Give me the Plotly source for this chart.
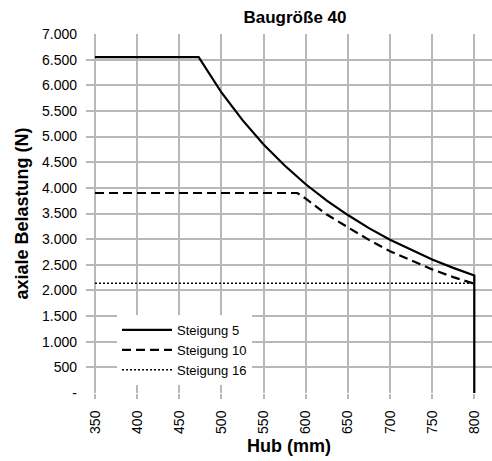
import plotly.graph_objects as go

# Data
hub_s5 = [350, 473, 500, 525, 550, 575, 600, 625, 650, 675, 700, 725, 750, 775, 800, 800]
last_s5 = [6550, 6550, 5860, 5320, 4845, 4435, 4070, 3750, 3470, 3215, 2990, 2790, 2605, 2440, 2290, 0]

hub_s10 = [350, 590, 600, 625, 650, 675, 700, 725, 750, 775, 800]
last_s10 = [3900, 3900, 3790, 3480, 3230, 2985, 2765, 2580, 2410, 2260, 2130]

hub_s16 = [350, 800]
last_s16 = [2140, 2140]

series_names = ["Steigung 5", "Steigung 10", "Steigung 16"]

x_ticks = [350, 400, 450, 500, 550, 600, 650, 700, 750, 800]
y_ticks = [0, 500, 1000, 1500, 2000, 2500, 3000, 3500, 4000, 4500, 5000, 5500, 6000, 6500, 7000]
y_tick_text = ["-", "500", "1.000", "1.500", "2.000", "2.500", "3.000", "3.500",
               "4.000", "4.500", "5.000", "5.500", "6.000", "6.500", "7.000"]

FONT = "Liberation Sans, Arial, sans-serif"
GRID = "#b8b8b8"

fig = go.Figure()
fig.add_trace(go.Scatter(x=hub_s5, y=last_s5, mode="lines", name=series_names[0],
                         line=dict(color="black", width=2.2)))
fig.add_trace(go.Scatter(x=hub_s10, y=last_s10, mode="lines", name=series_names[1],
                         line=dict(color="black", width=2.2, dash="9px,5px")))
fig.add_trace(go.Scatter(x=hub_s16, y=last_s16, mode="lines", name=series_names[2],
                         line=dict(color="black", width=1.6, dash="2px,2px")))

fig.update_layout(
    width=492, height=461,
    margin=dict(l=86, r=0, t=34, b=68),
    paper_bgcolor="white", plot_bgcolor="white",
    font=dict(family=FONT, color="black", size=14),
    title=dict(text="<b>Baugröße 40</b>", x=295 / 492, xref="container", xanchor="center",
               y=1 - 17 / 461, yref="container", yanchor="middle",
               font=dict(size=17, family=FONT, color="black")),
    showlegend=True,
    legend=dict(x=(117 - 86) / 406, y=(393 - 315) / 359, xanchor="left", yanchor="top",
                bgcolor="white", borderwidth=0, font=dict(size=13, family=FONT),
                tracegroupgap=0, itemwidth=50),
)

fig.update_xaxes(
    range=[339.3, 821], tickvals=x_ticks, ticktext=[str(v) for v in x_ticks],
    tickangle=-90, ticks="outside", ticklen=5, tickwidth=1.5, tickcolor=GRID,
    showgrid=True, gridcolor=GRID, gridwidth=1.5, zeroline=False, showline=False,
    tickfont=dict(size=14, family=FONT), ticklabelstandoff=6,
    title=dict(text="<b>Hub (mm)</b>", font=dict(size=18, family=FONT), standoff=6),
)
fig.update_yaxes(
    range=[0, 7000], tickvals=y_ticks, ticktext=y_tick_text,
    showgrid=True, gridcolor=GRID, gridwidth=1.5, zeroline=False, showline=False,
    ticks="", tickfont=dict(size=14, family=FONT), ticklabelstandoff=8,
    title=dict(text="<b>axiale Belastung (N)</b>", font=dict(size=18, family=FONT), standoff=8),
)

fig.write_html("out.html",
               config={"displayModeBar": False},
               post_script="document.body.style.margin='0';document.body.style.padding='0';")
